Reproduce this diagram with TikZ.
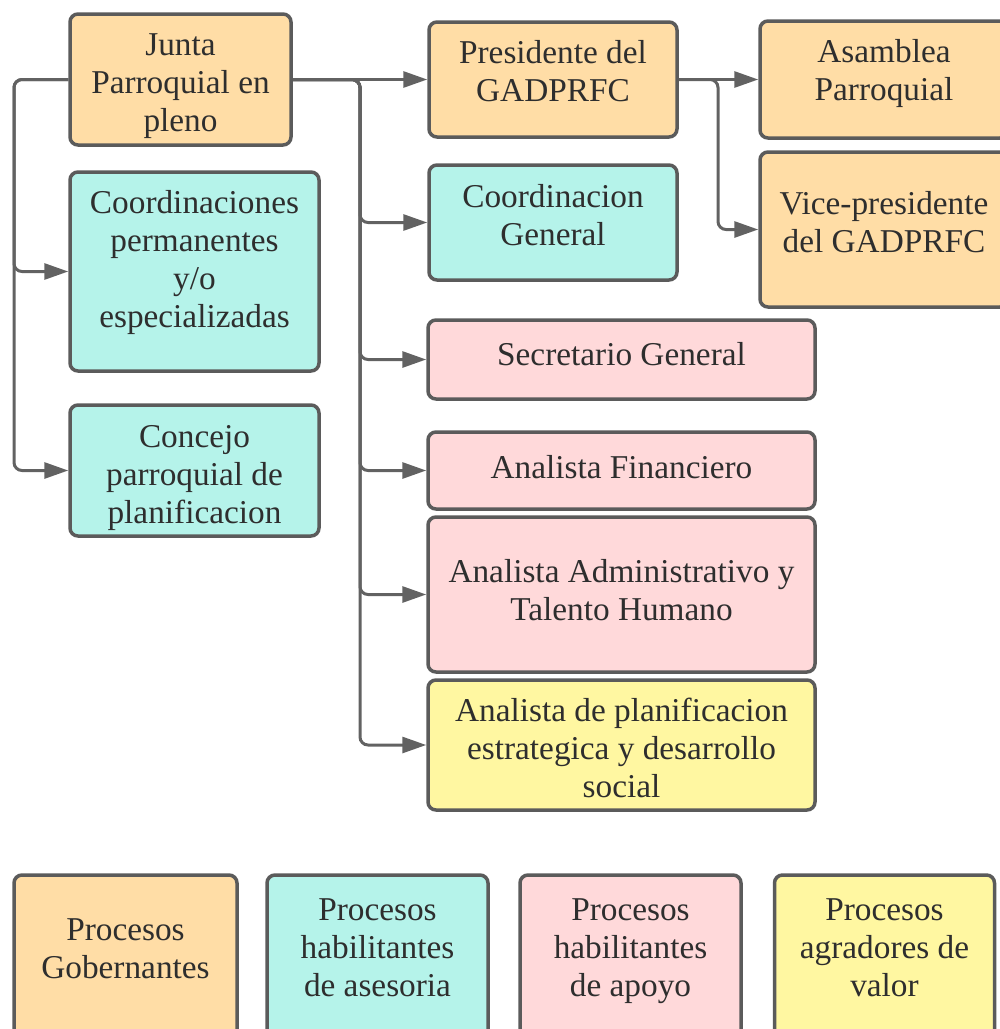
\documentclass[tikz,border=0pt]{standalone}
\usepackage{fontspec}
\setmainfont{Liberation Serif}
\usetikzlibrary{arrows.meta}
\definecolor{cOr}{HTML}{FFDDA6}
\definecolor{cTe}{HTML}{B5F3EA}
\definecolor{cPk}{HTML}{FFD9DA}
\definecolor{cYe}{HTML}{FFF7A1}
\definecolor{cBd}{HTML}{5B5B5B}
\definecolor{cLn}{HTML}{626262}
\definecolor{cTx}{HTML}{2E2E2E}
\newcommand\lines[1]{\begin{tabular}[t]{@{}c@{}}#1\end{tabular}}
\begin{document}
\begin{tikzpicture}[x=1pt,y=-1pt,
  box/.style={draw=cBd, line width=3.5pt, rounded corners=8pt, inner sep=0pt},
  txt/.style={anchor=base, inner sep=0pt, text=cTx, font=\fontsize{33.3}{38}\selectfont},
  conn/.style={draw=cLn, line width=3pt, rounded corners=8pt, -{Triangle[length=24pt,width=16pt]}}]
\useasboundingbox (0,0) rectangle (1000,1029);
% boxes
\node[box,fill=cOr,minimum width=221pt,minimum height=131pt] (J) at (180.5,79.5) {};
\node[box,fill=cTe,minimum width=249pt,minimum height=199pt] (C) at (194.5,271.5) {};
\node[box,fill=cTe,minimum width=249pt,minimum height=131pt] (K) at (194.5,470.5) {};
\node[box,fill=cOr,minimum width=248pt,minimum height=115pt] (P) at (553,79.5) {};
\node[box,fill=cTe,minimum width=248pt,minimum height=115pt] (G) at (553,222.5) {};
\node[box,fill=cOr,minimum width=248pt,minimum height=117pt] (A) at (884,79.5) {};
\node[box,fill=cOr,minimum width=248pt,minimum height=155pt] (V) at (884,229.5) {};
\node[box,fill=cPk,minimum width=387pt,minimum height=79pt] (S) at (621.5,359.5) {};
\node[box,fill=cPk,minimum width=387pt,minimum height=77pt] (F) at (621.5,470.5) {};
\node[box,fill=cPk,minimum width=387pt,minimum height=155pt] (H) at (621.5,594.5) {};
\node[box,fill=cYe,minimum width=387pt,minimum height=130pt] (E) at (621.5,745) {};
% legend
\node[box,fill=cOr,minimum width=223pt,minimum height=170pt] (L1) at (125.5,960) {};
\node[box,fill=cTe,minimum width=221pt,minimum height=170pt] (L2) at (377.5,960) {};
\node[box,fill=cPk,minimum width=221pt,minimum height=170pt] (L3) at (630.5,960) {};
\node[box,fill=cYe,minimum width=220pt,minimum height=170pt] (L4) at (884.5,960) {};
% texts
\node[txt] (Jt) at (180.5,55) {\lines{Junta\\Parroquial en\\pleno}};
\node[txt] (Ct) at (194.5,213) {\lines{Coordinaciones\\permanentes\\y/o\\especializadas}};
\node[txt] (Kt) at (194.5,447) {\lines{Concejo\\parroquial de\\planificacion}};
\node[txt] (Pt) at (553,63) {\lines{Presidente del\\GADPRFC}};
\node[txt] (Gt) at (553,207) {\lines{Coordinacion\\General}};
\node[txt] (At) at (884,62) {\lines{Asamblea\\Parroquial}};
\node[txt] (Vt) at (884,214) {\lines{Vice-presidente\\del GADPRFC}};
\node[txt] (St) at (621.5,365) {Secretario General};
\node[txt] (Ft) at (621.5,478) {Analista Financiero};
\node[txt] (Ht) at (621.5,582) {\lines{Analista Administrativo y\\Talento Humano}};
\node[txt] (Et) at (621.5,721) {\lines{Analista de planificacion\\estrategica y desarrollo\\social}};
\node[txt] (L1t) at (125.5,940) {\lines{Procesos\\Gobernantes}};
\node[txt] (L2t) at (377.5,920) {\lines{Procesos\\habilitantes\\de asesoria}};
\node[txt] (L3t) at (630.5,920) {\lines{Procesos\\habilitantes\\de apoyo}};
\node[txt] (L4t) at (884.5,920) {\lines{Procesos\\agradores de\\valor}};
% connectors
\coordinate (lx) at (14,0);
\coordinate (mx) at (360,0);
\coordinate (rx) at (718,0);
\draw[conn] (J.west) -- (J.west -| lx) |- (C.west);
\draw[conn] (J.west) -- (J.west -| lx) |- (K.west);
\draw[conn] (J.east) -- (P.west);
\draw[conn] (J.east) -- (J.east -| mx) |- (G.west);
\draw[conn] (J.east) -- (J.east -| mx) |- (S.west);
\draw[conn] (J.east) -- (J.east -| mx) |- (F.west);
\draw[conn] (J.east) -- (J.east -| mx) |- (H.west);
\draw[conn] (J.east) -- (J.east -| mx) |- (E.west);
\draw[conn] (P.east) -- (A.west);
\draw[conn] (P.east) -- (P.east -| rx) |- (V.west);
\end{tikzpicture}
\end{document}
